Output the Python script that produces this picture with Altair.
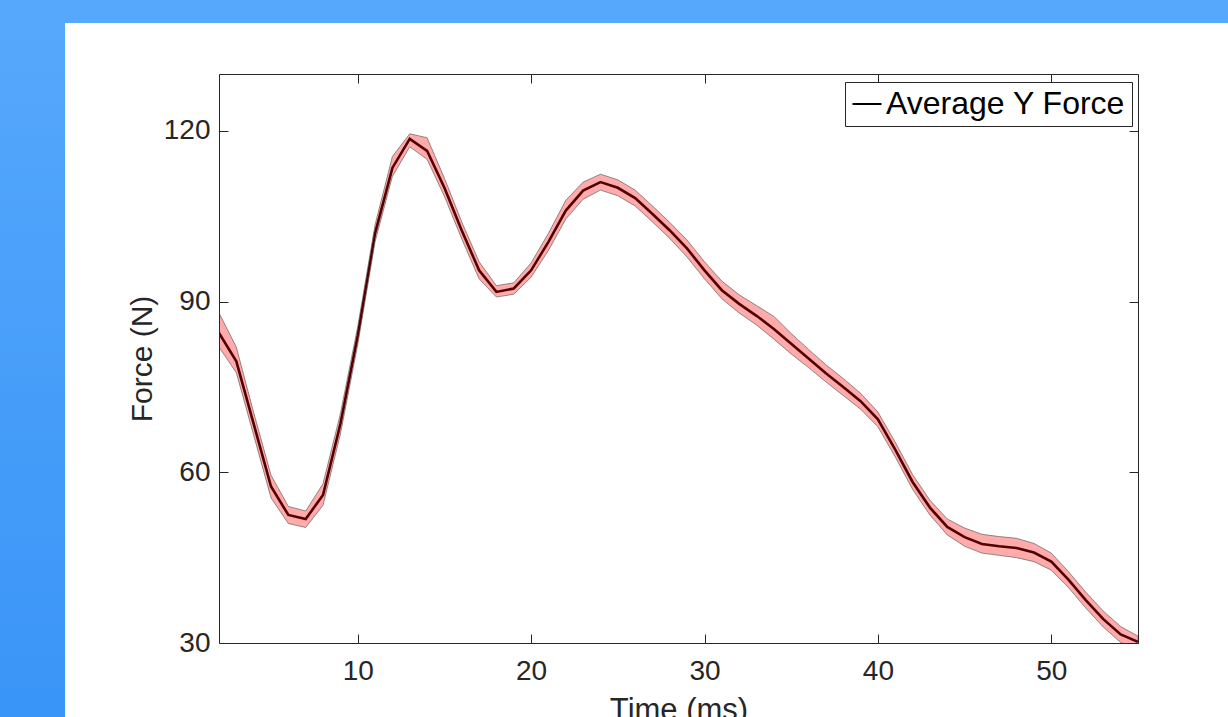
import altair as alt
import pandas as pd

# ---- data ----
time_ms = [2, 3, 4, 5, 6, 7, 8, 9, 10, 11, 12, 13, 14, 15, 16, 17, 18, 19, 20,
           21, 22, 23, 24, 25, 26, 27, 28, 29, 30, 31, 32, 33, 34, 35, 36, 37,
           38, 39, 40, 41, 42, 43, 44, 45, 46, 47, 48, 49, 50, 51, 52, 53, 54, 55]
force = [84.5, 79.5, 68.5, 57.5, 52.5, 51.8, 56.0, 68.5, 84.0, 102.0, 113.5, 118.6,
         116.5, 110.0, 102.5, 95.5, 91.7, 92.3, 95.5, 100.5, 106.0, 109.5, 111.0,
         110.0, 108.2, 105.4, 102.5, 99.3, 95.5, 92.0, 89.6, 87.5, 85.2, 82.6, 80.0,
         77.4, 75.0, 72.5, 69.3, 64.0, 58.3, 53.8, 50.4, 48.6, 47.4, 47.0, 46.7,
         45.9, 44.3, 41.1, 37.5, 34.2, 31.5, 30.2]
upper = [88.0, 82.0, 70.5, 59.5, 54.0, 53.2, 58.0, 70.3, 85.6, 103.5, 115.5, 119.5,
         118.8, 111.7, 104.0, 97.0, 92.8, 93.3, 96.8, 102.0, 107.8, 111.0, 112.4,
         111.4, 109.6, 106.8, 103.9, 100.8, 97.0, 93.6, 91.2, 89.3, 87.4, 84.4, 81.6,
         78.9, 76.5, 73.9, 70.6, 65.3, 59.6, 55.1, 51.8, 50.2, 49.1, 48.7, 48.4,
         47.5, 45.8, 42.5, 38.9, 35.6, 32.9, 31.2]
lower = [82.0, 77.5, 66.5, 55.5, 51.0, 50.3, 54.2, 66.7, 82.4, 100.5, 112.0, 117.2,
         115.0, 108.5, 101.0, 94.0, 90.8, 91.3, 94.3, 99.0, 104.5, 108.0, 109.6,
         108.6, 106.8, 104.0, 101.1, 97.8, 94.0, 90.5, 88.0, 85.9, 83.4, 80.8, 78.4,
         75.9, 73.5, 71.1, 68.0, 62.7, 57.0, 52.5, 49.0, 47.0, 45.8, 45.4, 45.0,
         44.3, 42.8, 39.7, 36.1, 32.8, 30.1, 29.0]
x_ticks = [10, 20, 30, 40, 50]
y_ticks = [30, 60, 90, 120]
series_name = "Average Y Force"

df = pd.DataFrame({"t": time_ms, "force": force, "hi": upper, "lo": lower,
                   "series": [series_name] * len(time_ms)})
one = pd.DataFrame({"k": [0]})

FONT = "Liberation Sans"
AXC = "#262626"
W, H = 919, 569

xs = alt.Scale(domain=[2, 55], nice=False, zero=False)
ys = alt.Scale(domain=[30, 130], nice=False, zero=False)


def tick_axis(orient, values):
    return alt.Axis(orient=orient, values=values, offset=-9, ticks=True, tickSize=9,
                    tickColor=AXC, tickWidth=1, domain=False, labels=False,
                    title=None, grid=False, zindex=1)


def frame_axis(orient):
    return alt.Axis(orient=orient, ticks=False, tickSize=0, domain=True,
                    domainColor=AXC, domainWidth=1, labels=False, title=None,
                    grid=False, zindex=1)


# page background (blue) and white panel
bg = alt.Chart(one).mark_rect(
    color=alt.LinearGradient(
        gradient="linear",
        stops=[alt.GradientStop(offset=0, color="#56a8fb"),
               alt.GradientStop(offset=1, color="#3a95f8")],
        x1=0, x2=0, y1=0, y2=1)
).encode(x=alt.value(-219), x2=alt.value(1009), y=alt.value(-74), y2=alt.value(643))

panel = alt.Chart(one).mark_rect(color="white").encode(
    x=alt.value(-154), x2=alt.value(1009), y=alt.value(-51), y2=alt.value(643))

line = alt.Chart(df).mark_line(color="black", strokeWidth=2.6, clip=True).encode(
    x=alt.X("t:Q", scale=xs, axis=alt.Axis(
        orient="bottom", values=x_ticks, ticks=False, tickSize=0, domain=True,
        domainColor=AXC, domainWidth=1, labelFontSize=28, labelFont=FONT,
        labelColor=AXC, labelPadding=14, labelFlush=False, grid=False,
        title="Time (ms)", titleFontSize=31, titleFont=FONT, titleFontWeight="normal",
        titleColor=AXC, titleBaseline="top", titleY=52, zindex=1)),
    y=alt.Y("force:Q", scale=ys, axis=alt.Axis(
        orient="left", values=y_ticks, ticks=False, tickSize=0, domain=True,
        domainColor=AXC, domainWidth=1, labelFontSize=28, labelFont=FONT,
        labelColor=AXC, labelPadding=9, labelFlush=False, grid=False,
        title="Force (N)", titleFontSize=30, titleFont=FONT, titleFontWeight="normal",
        titleColor=AXC, titleAngle=270, titleBaseline="middle", titleAlign="center",
        titleX=-77, titleY=H / 2, zindex=1)),
    color=alt.Color("series:N", scale=alt.Scale(range=["#000000"]), legend=alt.Legend(
        orient="none", legendX=626, legendY=8, title=None, labelFontSize=32,
        labelFont=FONT, labelColor="black", labelLimit=600, symbolType="stroke",
        symbolSize=841, symbolStrokeWidth=2, strokeColor=AXC, fillColor="white",
        padding=6, labelOffset=3, zindex=2)),
)

band = alt.Chart(df).mark_area(
    color="#ff0000", fillOpacity=0.33, stroke="#555555", strokeWidth=0.8,
    strokeOpacity=0.8, clip=True
).encode(
    x=alt.X("t:Q", scale=xs, axis=tick_axis("bottom", x_ticks)),
    y=alt.Y("lo:Q", scale=ys, axis=tick_axis("left", y_ticks)),
    y2="hi:Q",
)

frame = alt.Chart(df).mark_line(opacity=0).encode(
    x=alt.X("t:Q", scale=xs, axis=frame_axis("top")),
    y=alt.Y("force:Q", scale=ys, axis=frame_axis("right")),
)

ticks_tr = alt.Chart(df).mark_line(opacity=0).encode(
    x=alt.X("t:Q", scale=xs, axis=tick_axis("top", x_ticks)),
    y=alt.Y("force:Q", scale=ys, axis=tick_axis("right", y_ticks)),
)

chart = alt.layer(bg, panel, line, band, frame, ticks_tr).resolve_axis(
    x="independent", y="independent"
).properties(
    width=W, height=H, autosize="none",
    padding={"left": 219, "top": 74, "right": 90, "bottom": 74},
).configure(background="#52a4fa").configure_view(stroke="transparent")

chart.save("out.html", embed_options={"renderer": "svg", "actions": False})
